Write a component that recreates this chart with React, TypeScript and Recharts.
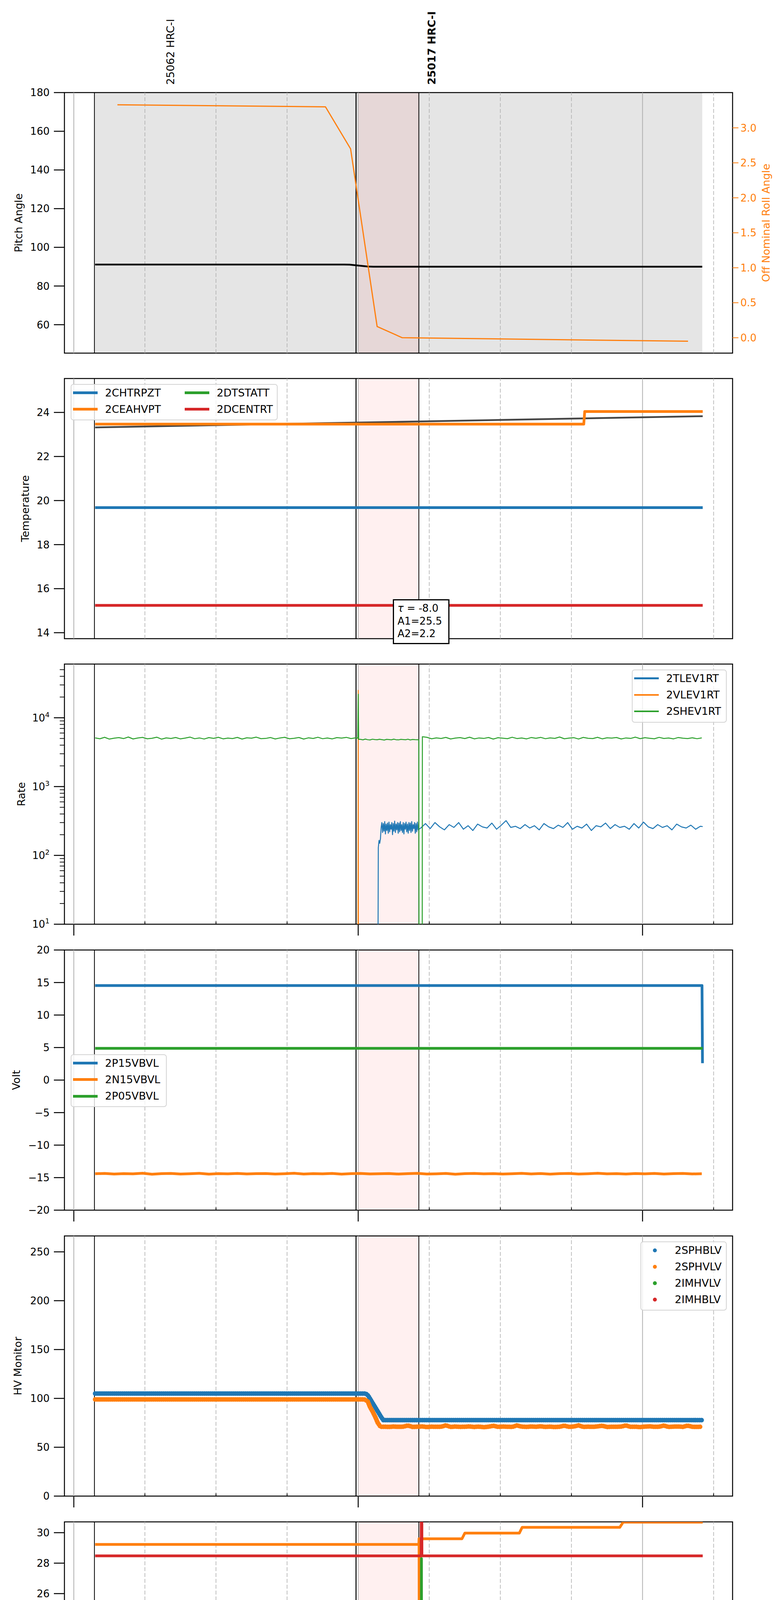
import React from 'react';
import { ComposedChart, Line, Scatter, XAxis, YAxis, ReferenceLine, ReferenceArea } from 'recharts';

const FONT = "'DejaVu Sans', sans-serif";
const BLUE = '#1f77b4';
const ORANGE = '#ff7f0e';
const GREEN = '#2ca02c';
const RED = '#d62728';
const BLACK = '#000000';

// ---------------- time axis: minutes after 2021-06-15 03:00 ----------------
const xDomain = [-1.98, 139.0];
const xTicks = [0, 15, 30, 45, 60, 75, 90, 105, 120, 135];
const xTickLabels = ['03h', '15', '30', '45', '04h', '15', '30', '45', '05h', '15'];
const xMajor = [0, 60, 120];
const xMinor = [15, 30, 45, 75, 90, 105, 135];
const obsBand = [60.0, 72.8];
const eventLines = [4.35, 59.55, 72.8];
const shadeSpan = [4.48, 132.6];
const obsLabels = [
  { t: 20.4, v: 180, text: '25062 HRC-I', bold: false },
  { t: 75.5, v: 180, text: '25017 HRC-I', bold: true },
];

type P = { t: number; v: number };
const zip = (ts: number[], vs: number[]): P[] => ts.map((t, i) => ({ t, v: vs[i] }));
const sampled = (start: number, step: number, vs: number[]): P[] =>
  vs.map((v, i) => ({ t: Math.round((start + i * step) * 1000) / 1000, v }));

// ---------------- panel 1: pitch / roll ----------------
const pitchDomain = [45.3, 180];
const pitchTicks = [60, 80, 100, 120, 140, 160, 180];
const rollDomain = [-0.22, 3.504];
const rollTicks = [0, 0.5, 1.0, 1.5, 2.0, 2.5, 3.0];
const pitchT = [4.5, 57.0, 58.2, 60.0, 62.0, 63.2, 132.6];
const pitchV = [91.1, 91.1, 91.05, 90.6, 90.1, 90.0, 90.0];
const rollT = [9.2, 53.1, 58.4, 64.0, 69.3, 129.6];
const rollV = [3.33, 3.3, 2.7, 0.16, 0.0, -0.05];

// ---------------- panel 2: temperature ----------------
const tempDomain = [13.73, 25.54];
const tempTicks = [14, 16, 18, 20, 22, 24];
const chtrpztT = [4.5, 132.7];
const chtrpztV = [19.68, 19.68];
const ceahvptT = [4.5, 107.6, 107.8, 132.7];
const ceahvptV = [23.47, 23.47, 24.04, 24.04];
const dcentrtT = [4.5, 132.7];
const dcentrtV = [15.24, 15.24];
const trendT = [4.5, 132.7];
const trendV = [23.32, 23.83];
const fitText = ['τ', ' = -8.0', 'A1=25.5', 'A2=2.2'];

// ---------------- panel 3: rates (log) ----------------
const rateDomain = [10, 60300];
const rateMajor = [10, 100, 1000, 10000];
const rateMinor = [20, 30, 40, 50, 60, 70, 80, 90, 200, 300, 400, 500, 600, 700, 800, 900,
  2000, 3000, 4000, 5000, 6000, 7000, 8000, 9000, 20000, 30000, 40000, 50000];
const shevPre = [5100, 4950, 5200, 4900, 5050, 5150, 4980, 5250, 4920, 5080,
  5180, 4950, 5030, 5220, 4890, 5100, 5000, 5170, 4930, 5060,
  5240, 4960, 5090, 4910, 5150, 5020, 5200, 4940, 5070, 4990,
  5180, 4900, 5120, 5050, 5230, 4970, 5010, 5160, 4920, 5090,
  5200, 4950, 5040, 5170, 4900, 5110, 5000, 5210, 4960, 5080,
  4930, 5150, 5060, 5190, 4980, 5120];
const shevSpikeT = [59.9, 60.0, 60.1];
const shevSpikeV = [5050, 22000, 4850];
const shevBand = [4850, 4780, 4900, 4800, 4760, 4880, 4820, 4790, 4870, 4810, 4750, 4860, 4830,
  4780, 4890, 4800, 4770, 4850, 4820, 4790, 4880, 4760, 4840, 4810, 4800];
const shevGapT = [72.8, 72.85, 73.5, 73.55];
const shevGapV = [4800, 1, 1, 5300];
const shevPost = [5200, 4950, 5100, 5000, 5180, 4920, 5060, 5150, 4980, 5220,
  4940, 5090, 5010, 5170, 4900, 5130, 5050, 4970, 5210, 4990,
  5080, 4930, 5160, 5040, 5190, 4960, 5100, 5020, 5250, 4950,
  5070, 5140, 4910, 5180, 5030, 4980, 5200, 4940, 5110, 5060,
  5170, 4920, 5090, 5010, 5230, 4970, 5130, 5040, 4950, 5190,
  5000, 5080, 4930, 5160, 5050, 4990, 5120, 4960, 5100];
const vlevT = [59.95, 60.0, 60.05];
const vlevV = [1, 25000, 1];
const tlevRiseT = [4.5, 64.15, 64.25, 64.4, 64.55, 64.7, 64.85];
const tlevRiseV = [1, 1, 130, 165, 150, 175, 255];
const tlevDense = [300, 215, 290, 225, 310, 205, 285, 230, 295, 210,
  305, 220, 280, 240, 300, 200, 290, 225, 315, 215,
  285, 235, 300, 210, 295, 220, 310, 230, 280, 215,
  300, 205, 290, 240, 305, 220, 285, 210, 300, 230,
  295, 215, 310, 225, 280, 245, 300, 210, 290, 220,
  305, 235];
const tlevPost = [250, 290, 245, 300, 260, 235, 280, 255, 300, 240,
  270, 230, 285, 260, 250, 295, 240, 275, 320, 255,
  265, 245, 280, 250, 270, 235, 290, 260, 245, 275,
  255, 300, 240, 265, 250, 285, 230, 270, 260, 295,
  245, 280, 255, 265, 240, 290, 250, 305, 260, 245,
  280, 255, 270, 235, 285, 260, 250, 275, 240, 265];
const tlevEndT = [132.7];
const tlevEndV = [262];

// ---------------- panel 4: volts ----------------
const voltDomain = [-20, 20];
const voltTicks = [-20, -15, -10, -5, 0, 5, 10, 15, 20];
const p15T = [4.5, 132.55, 132.65];
const p15V = [14.53, 14.53, 2.6];
const p05T = [4.5, 132.7];
const p05V = [4.88, 4.88];
const n15V = [-14.40, -14.35, -14.45, -14.38, -14.42, -14.33, -14.47, -14.39, -14.36, -14.44,
  -14.40, -14.34, -14.46, -14.38, -14.41, -14.35, -14.43, -14.39, -14.37, -14.45,
  -14.40, -14.33, -14.44, -14.38, -14.42, -14.36, -14.46, -14.39, -14.35, -14.43,
  -14.40, -14.37, -14.45, -14.38, -14.34, -14.44, -14.41, -14.36, -14.47, -14.39,
  -14.35, -14.42, -14.38, -14.45, -14.40, -14.34, -14.43, -14.37, -14.46, -14.39,
  -14.36, -14.44, -14.40, -14.33, -14.42, -14.38, -14.45, -14.37, -14.41, -14.35,
  -14.44, -14.39, -14.36, -14.43, -14.40];

// ---------------- panel 5: HV monitor ----------------
const hvDomain = [0, 266.3];
const hvTicks = [0, 50, 100, 150, 200, 250];
const sphblvT = [4.5, 61.6, 62.1, 62.8, 63.5, 64.1, 64.7, 65.3, 132.7];
const sphblvV = [105, 105, 102.9, 97.3, 91.8, 87.0, 82.1, 77.8, 77.8];
const sphvlvStepT = [4.5, 61.3, 62.0, 62.5, 63.1, 63.6, 64.1, 64.7];
const sphvlvStepV = [99, 99, 97.1, 91.2, 86.0, 81.1, 75.3, 71.0];
const sphvlvNoise = [71.0, 70.8, 71.2, 70.9, 71.1, 72.2, 70.8, 71.0, 71.3, 70.7,
  71.1, 70.9, 71.0, 72.4, 70.8, 71.2, 70.9, 71.0, 71.3, 70.8,
  71.1, 70.6, 71.0, 72.0, 70.9, 71.2, 71.0, 70.8, 72.3, 71.1,
  70.9, 71.2, 71.0, 71.4, 70.8, 71.1, 70.7, 71.0, 72.1, 70.9,
  71.2, 72.4, 70.8, 71.1, 70.9, 71.3, 72.0, 70.8, 71.0, 70.9,
  71.2, 72.3, 70.9, 71.0, 70.7, 71.1, 71.4, 70.9, 71.0, 72.2,
  70.8, 71.1, 71.2, 70.9, 72.1, 71.0, 70.8, 71.1];

// ---------------- panel 6: detector temp ----------------
const detDomain = [13.63, 30.71];
const detTicks = [14, 16, 18, 20, 22, 24, 26, 28, 30];
const spinatmT = [4.5, 73.6, 73.7, 73.8, 132.7];
const spinatmV = [15.12, 15.12, 5, 15.12, 15.12];
const sphvatmT = [4.5, 72.8, 72.85, 72.95, 73.05, 81.9, 82.5, 94.0, 94.6, 115.2, 115.9, 132.7];
const sphvatmV = [29.23, 29.23, 29.6, 5, 29.6, 29.6, 29.97, 29.97, 30.35, 30.35, 30.69, 30.69];
const iminatmT = [4.5, 73.3, 73.35, 73.4, 73.45, 132.7];
const iminatmV = [15.72, 15.72, 28.3, 5, 15.72, 15.72];
const imhvatmT = [4.5, 73.3, 73.35, 73.45, 132.7];
const imhvatmV = [28.48, 28.48, 50, 28.48, 28.48];

// ---------------- panel 7: FEA temp ----------------
const feaDomain = [10.14, 20.43];
const feaTicks = [12, 14, 16, 18, 20];
const fhtrmztT = [4.5, 132.7];
const fhtrmztV = [16.66, 16.66];
const fradpytT = [4.5, 132.7];
const fradpytV = [11.64, 11.64];
const fepratmT = [4.5, 73.4, 73.5, 73.6, 132.7];
const fepratmV = [18.93, 18.93, 25, 18.93, 18.93];
const fe00atmT = [4.5, 72.9, 73.0, 73.3, 79.5, 80.3, 81.4, 82.1, 83.0, 83.8, 84.8, 85.5, 132.7];
const fe00atmV = [17.81, 17.81, 12.74, 17.81, 17.81, 17.5, 17.81, 17.5, 17.81, 17.5, 17.81, 17.51, 17.51];

// ---------------- legends ----------------
const legTemp = [
  { label: '2CHTRPZT', color: BLUE }, { label: '2CEAHVPT', color: ORANGE },
  { label: '2DTSTATT', color: GREEN }, { label: '2DCENTRT', color: RED }];
const legRate = [
  { label: '2TLEV1RT', color: BLUE }, { label: '2VLEV1RT', color: ORANGE }, { label: '2SHEV1RT', color: GREEN }];
const legVolt = [
  { label: '2P15VBVL', color: BLUE }, { label: '2N15VBVL', color: ORANGE }, { label: '2P05VBVL', color: GREEN }];
const legHV = [
  { label: '2SPHBLV', color: BLUE }, { label: '2SPHVLV', color: ORANGE },
  { label: '2IMHVLV', color: GREEN }, { label: '2IMHBLV', color: RED }];
const legDet = [
  { label: '2SPINATM', color: BLUE }, { label: '2SPHVATM', color: ORANGE },
  { label: '2IMINATM', color: GREEN }, { label: '2IMHVATM', color: RED }];
const legFea = [
  { label: '2FHTRMZT', color: BLUE }, { label: '2FRADPYT', color: ORANGE },
  { label: '2FEPRATM', color: GREEN }, { label: '2FE00ATM', color: RED }];

// ---------------- data tables ----------------
const pitchData = zip(pitchT, pitchV);
const rollData = zip(rollT, rollV);
const chtrpztData = zip(chtrpztT, chtrpztV);
const ceahvptData = zip(ceahvptT, ceahvptV);
const dcentrtData = zip(dcentrtT, dcentrtV);
const trendData = zip(trendT, trendV);
const shevData = [
  ...sampled(4.5, 1, shevPre), ...zip(shevSpikeT, shevSpikeV), ...sampled(60.5, 0.5, shevBand),
  ...zip(shevGapT, shevGapV), ...sampled(74.5, 1, shevPost)];
const vlevData = zip(vlevT, vlevV);
const tlevData = [
  ...zip(tlevRiseT, tlevRiseV), ...sampled(65.0, 0.15, tlevDense), ...sampled(73.2, 1, tlevPost),
  ...zip(tlevEndT, tlevEndV)];
const p15Data = zip(p15T, p15V);
const p05Data = zip(p05T, p05V);
const n15Data = sampled(4.5, 2, n15V);
const sphblvData = zip(sphblvT, sphblvV);
const sphvlvData = [...zip(sphvlvStepT, sphvlvStepV), ...sampled(65.5, 1, sphvlvNoise)];
const spinatmData = zip(spinatmT, spinatmV);
const sphvatmData = zip(sphvatmT, sphvatmV);
const iminatmData = zip(iminatmT, iminatmV);
const imhvatmData = zip(imhvatmT, imhvatmV);
const fhtrmztData = zip(fhtrmztT, fhtrmztV);
const fradpytData = zip(fradpytT, fradpytV);
const fepratmData = zip(fepratmT, fepratmV);
const fe00atmData = zip(fe00atmT, fe00atmV);

// ---------------- tick renderers ----------------
const fmtPlain = (v: number) => String(v);
const fmtMinus = (v: number) => (v < 0 ? '\u2212' + Math.abs(v) : String(v));

const yTick = (p: any, fmt: (v: number) => string) => {
  const { x, y, payload } = p;
  return (
    <g>
      <line x1={x - 27} x2={x} y1={y} y2={y} stroke={BLACK} strokeWidth={2.5} />
      <text x={x - 38} y={y} dy="0.36em" textAnchor="end" fontSize={26} fontFamily={FONT} fill={BLACK}>
        {fmt(payload.value)}
      </text>
    </g>
  );
};

const rollTick = (p: any) => {
  const { x, y, payload } = p;
  return (
    <g>
      <line x1={x} x2={x + 15} y1={y} y2={y} stroke={ORANGE} strokeWidth={2} />
      <text x={x + 20} y={y} dy="0.36em" textAnchor="start" fontSize={26} fontFamily={FONT} fill={ORANGE}>
        {Number(payload.value).toFixed(1)}
      </text>
    </g>
  );
};

const logTick = (p: any) => {
  const { x, y, payload } = p;
  const v = Number(payload.value);
  const e = Math.round(Math.log10(v));
  if (!rateMajor.includes(v)) {
    return <line x1={x - 12} x2={x} y1={y} y2={y} stroke={BLACK} strokeWidth={1.8} />;
  }
  return (
    <g>
      <line x1={x - 27} x2={x} y1={y} y2={y} stroke={BLACK} strokeWidth={2.5} />
      <text x={x - 38} y={y} dy="0.36em" textAnchor="end" fontSize={26} fontFamily={FONT} fill={BLACK}>
        10<tspan dy={-11} fontSize={18}>{e}</tspan>
      </text>
    </g>
  );
};

const xTick = (p: any, withLabels: boolean) => {
  const { x, y, payload } = p;
  const v = Number(payload.value);
  const i = xTicks.indexOf(v);
  if (xMajor.includes(v)) {
    return (
      <g>
        <line x1={x} x2={x} y1={y} y2={y + 29} stroke={BLACK} strokeWidth={2.5} />
        {withLabels && (
          <text x={x} y={y + 59} textAnchor="middle" fontSize={26} fontFamily={FONT} fill={BLACK}>
            {xTickLabels[i]}
          </text>
        )}
      </g>
    );
  }
  return (
    <g>
      <line x1={x} x2={x} y1={y} y2={y - 7} stroke={BLACK} strokeWidth={2} />
      {withLabels && (
        <text x={x} y={y + 21} textAnchor="middle" fontSize={17.5} fontFamily={FONT} fill={BLACK}>
          {xTickLabels[i]}
        </text>
      )}
    </g>
  );
};

const obsLabelShape = (p: any) => {
  const { cx, cy, payload } = p;
  const ty = cy - 20;
  return (
    <text
      x={cx}
      y={ty}
      transform={`rotate(-90 ${cx} ${ty})`}
      textAnchor="start"
      dominantBaseline="central"
      fontSize={27}
      fontFamily={FONT}
      fontWeight={payload.bold ? 'bold' : 'normal'}
      fill={BLACK}
    >
      {payload.text}
    </text>
  );
};

// ---------------- shared chart pieces ----------------
const backdrop = (shaded: boolean) => {
  const els: any[] = [];
  if (shaded) {
    els.push(
      <ReferenceArea key="shade" yAxisId="L" x1={shadeSpan[0]} x2={shadeSpan[1]} fill="#000000" fillOpacity={0.1} stroke="none" />
    );
  }
  xMajor.forEach((t) =>
    els.push(<ReferenceLine key={'mg' + t} yAxisId="L" x={t} stroke="#b0b0b0" strokeWidth={2} />)
  );
  xMinor.forEach((t) =>
    els.push(<ReferenceLine key={'ng' + t} yAxisId="L" x={t} stroke="#b0b0b0" strokeWidth={1.6} strokeDasharray="10 5" />)
  );
  els.push(
    <ReferenceArea key="band" yAxisId="L" x1={obsBand[0]} x2={obsBand[1]} fill="#ff0000" fillOpacity={0.06} stroke="none" />
  );
  eventLines.forEach((t, i) =>
    els.push(<ReferenceLine key={'ev' + i} yAxisId="L" x={t} stroke={BLACK} strokeWidth={i === 1 ? 2.6 : 2} />)
  );
  return els;
};

const frame = () => (
  <ReferenceArea key="frame" yAxisId="L" x1={xDomain[0]} x2={xDomain[1]} fill="none" stroke={BLACK} strokeWidth={2.5} />
);

const lineProps = { dot: false, activeDot: false, isAnimationActive: false, type: 'linear' as const, strokeLinejoin: 'round' as const };

const xAxisFor = (mode: 'none' | 'ticks' | 'labels', clip: boolean, height: number) => (
  <XAxis
    type="number"
    dataKey="t"
    domain={xDomain}
    ticks={xTicks}
    interval={0}
    allowDataOverflow={clip}
    tickLine={false}
    axisLine={false}
    tickSize={0}
    tickMargin={0}
    height={height}
    tick={mode === 'none' ? false : (p: any) => xTick(p, mode === 'labels')}
  />
);

const yAxisFor = (domain: number[], ticks: number[], fmt: (v: number) => string, clip: boolean) => (
  <YAxis
    yAxisId="L"
    type="number"
    domain={domain}
    ticks={ticks}
    interval={0}
    allowDataOverflow={clip}
    width={165}
    tickLine={false}
    axisLine={false}
    tickSize={0}
    tickMargin={0}
    tick={(p: any) => yTick(p, fmt)}
  />
);

// ---------------- legend (HTML) ----------------
type LegItem = { label: string; color: string };
function LegendBox(props: {
  left: number; top: number; width: number; height: number; items: LegItem[];
  cols?: number; marker?: 'line' | 'dot'; lw?: number;
}) {
  const { left, top, width, height, items, cols = 1, marker = 'line', lw = 7 } = props;
  const rows = Math.ceil(items.length / cols);
  return (
    <div
      style={{
        position: 'absolute', left, top, width, height, boxSizing: 'border-box',
        border: '2px solid #d4d4d4', borderRadius: 7, background: 'rgba(255,255,255,0.8)', zIndex: 10,
      }}
    >
      {items.map((it, i) => {
        const c = Math.floor(i / rows);
        const r = i % rows;
        const cy = 22.5 + r * 42.3 - 2;
        const x0 = c * 286 - 2;
        return (
          <React.Fragment key={it.label}>
            {marker === 'line' ? (
              <div style={{ position: 'absolute', left: x0 + 6, top: cy - lw / 2, width: 63, height: lw, background: it.color }} />
            ) : (
              <div style={{ position: 'absolute', left: x0 + 32, top: cy - 5, width: 10, height: 10, borderRadius: 5, background: it.color }} />
            )}
            <div
              style={{
                position: 'absolute', left: x0 + 88, top: cy - 21, height: 42, lineHeight: '42px',
                fontSize: 27, fontFamily: FONT, whiteSpace: 'nowrap', color: BLACK,
              }}
            >
              {it.label}
            </div>
          </React.Fragment>
        );
      })}
    </div>
  );
}

const yLabels = [
  { text: 'Pitch Angle', x: 47, y: 570.5, color: BLACK },
  { text: 'Off Nominal Roll Angle', x: 1961, y: 570.5, color: ORANGE },
  { text: 'Temperature', x: 64, y: 1302, color: BLACK },
  { text: 'Rate', x: 54, y: 2033, color: BLACK },
  { text: 'Volt', x: 41, y: 2765, color: BLACK },
  { text: 'HV Monitor', x: 45, y: 3497, color: BLACK },
  { text: 'Detector Temp', x: 64, y: 4229, color: BLACK },
  { text: 'FEA Temp', x: 64, y: 4959.5, color: BLACK },
];

const MT = 30; // headroom above each plot so top tick labels are not clipped

const Wrap = (props: { top: number; children: any }) => (
  <div style={{ position: 'absolute', left: 0, top: props.top }}>{props.children}</div>
);

export default function App() {
  return (
    <div style={{ position: 'relative', width: 2000, height: 5400, margin: -8, background: '#ffffff', overflow: 'hidden' }}>
      {/* Panel 1: pitch / roll */}
      <Wrap top={0}>
        <ComposedChart width={2000} height={906} margin={{ top: 237, right: 0, bottom: 0, left: 0 }}>
          {xAxisFor('none', false, 2)}
          {yAxisFor(pitchDomain, pitchTicks, fmtPlain, false)}
          <YAxis
            yAxisId="R" orientation="right" type="number" domain={rollDomain} ticks={rollTicks} interval={0}
            width={124} tickLine={false} axisLine={false} tickSize={0} tickMargin={0} tick={rollTick}
          />
          {backdrop(true)}
          <Line yAxisId="L" data={pitchData} dataKey="v" stroke={BLACK} strokeWidth={4.5} {...lineProps} />
          <Line yAxisId="R" data={rollData} dataKey="v" stroke={ORANGE} strokeWidth={3} {...lineProps} />
          <Scatter yAxisId="L" data={obsLabels} dataKey="v" shape={obsLabelShape} isAnimationActive={false} />
          {frame()}
        </ComposedChart>
      </Wrap>

      {/* Panel 2: temperature */}
      <Wrap top={969 - MT}>
        <ComposedChart width={2000} height={MT + 668} margin={{ top: MT, right: 124, bottom: 0, left: 0 }}>
          {xAxisFor('none', false, 2)}
          {yAxisFor(tempDomain, tempTicks, fmtPlain, false)}
          {backdrop(false)}
          <Line yAxisId="L" data={trendData} dataKey="v" stroke="#454545" strokeWidth={4.5} {...lineProps} />
          <Line yAxisId="L" data={chtrpztData} dataKey="v" stroke={BLUE} strokeWidth={7} {...lineProps} />
          <Line yAxisId="L" data={ceahvptData} dataKey="v" stroke={ORANGE} strokeWidth={7} {...lineProps} />
          <Line yAxisId="L" data={dcentrtData} dataKey="v" stroke={RED} strokeWidth={7} {...lineProps} />
          {frame()}
        </ComposedChart>
      </Wrap>
      <LegendBox left={181} top={983} width={530} height={93} items={legTemp} cols={2} />
      <div
        style={{
          position: 'absolute', left: 1006, top: 1534, width: 145, height: 115, boxSizing: 'border-box',
          border: '3px solid #000', background: '#fff', zIndex: 10, fontFamily: FONT, fontSize: 26, color: BLACK,
        }}
      >
        <div style={{ position: 'absolute', left: 9, top: 4, lineHeight: '32px', whiteSpace: 'nowrap' }}>
          <i>{fitText[0]}</i>{fitText[1]}
        </div>
        <div style={{ position: 'absolute', left: 9, top: 37, lineHeight: '32px', whiteSpace: 'nowrap' }}>{fitText[2]}</div>
        <div style={{ position: 'absolute', left: 9, top: 69, lineHeight: '32px', whiteSpace: 'nowrap' }}>{fitText[3]}</div>
      </div>

      {/* Panel 3: rates */}
      <Wrap top={1700 - MT}>
        <ComposedChart width={2000} height={MT + 706} margin={{ top: MT, right: 124, bottom: 0, left: 0 }}>
          {xAxisFor('ticks', true, 40)}
          <YAxis
            yAxisId="L" type="number" scale="log" domain={rateDomain} ticks={[...rateMajor, ...rateMinor]}
            interval={0} allowDataOverflow width={165} tickLine={false} axisLine={false} tickSize={0} tickMargin={0}
            tick={logTick}
          />
          {backdrop(false)}
          <Line yAxisId="L" data={tlevData} dataKey="v" stroke={BLUE} strokeWidth={2.5} {...lineProps} />
          <Line yAxisId="L" data={vlevData} dataKey="v" stroke={ORANGE} strokeWidth={2.5} {...lineProps} />
          <Line yAxisId="L" data={shevData} dataKey="v" stroke={GREEN} strokeWidth={2.5} {...lineProps} />
          {frame()}
        </ComposedChart>
      </Wrap>
      <LegendBox left={1618} top={1714} width={243} height={136} items={legRate} lw={4.5} />

      {/* Panel 4: volts */}
      <Wrap top={2432 - MT}>
        <ComposedChart width={2000} height={MT + 706} margin={{ top: MT, right: 124, bottom: 0, left: 0 }}>
          {xAxisFor('ticks', false, 40)}
          {yAxisFor(voltDomain, voltTicks, fmtMinus, false)}
          {backdrop(false)}
          <Line yAxisId="L" data={p15Data} dataKey="v" stroke={BLUE} strokeWidth={7} {...lineProps} />
          <Line yAxisId="L" data={n15Data} dataKey="v" stroke={ORANGE} strokeWidth={7} {...lineProps} />
          <Line yAxisId="L" data={p05Data} dataKey="v" stroke={GREEN} strokeWidth={7} {...lineProps} />
          {frame()}
        </ComposedChart>
      </Wrap>
      <LegendBox left={181} top={2699} width={246} height={135} items={legVolt} />

      {/* Panel 5: HV monitor (dotted markers) */}
      <Wrap top={3164 - MT}>
        <ComposedChart width={2000} height={MT + 706} margin={{ top: MT, right: 124, bottom: 0, left: 0 }}>
          {xAxisFor('ticks', false, 40)}
          {yAxisFor(hvDomain, hvTicks, fmtPlain, false)}
          {backdrop(false)}
          <Line yAxisId="L" data={sphblvData} dataKey="v" stroke={BLUE} strokeWidth={12} strokeDasharray="0 5" strokeLinecap="round" {...lineProps} />
          <Line yAxisId="L" data={sphvlvData} dataKey="v" stroke={ORANGE} strokeWidth={12} strokeDasharray="0 5" strokeLinecap="round" {...lineProps} />
          {frame()}
        </ComposedChart>
      </Wrap>
      <LegendBox left={1640} top={3178} width={221} height={177} items={legHV} marker="dot" />

      {/* Panel 6: detector temp */}
      <Wrap top={3896 - MT}>
        <ComposedChart width={2000} height={MT + 706} margin={{ top: MT, right: 124, bottom: 0, left: 0 }}>
          {xAxisFor('ticks', true, 40)}
          {yAxisFor(detDomain, detTicks, fmtPlain, true)}
          {backdrop(false)}
          <Line yAxisId="L" data={spinatmData} dataKey="v" stroke={BLUE} strokeWidth={7} {...lineProps} />
          <Line yAxisId="L" data={sphvatmData} dataKey="v" stroke={ORANGE} strokeWidth={7} {...lineProps} />
          <Line yAxisId="L" data={iminatmData} dataKey="v" stroke={GREEN} strokeWidth={7} {...lineProps} />
          <Line yAxisId="L" data={imhvatmData} dataKey="v" stroke={RED} strokeWidth={7} {...lineProps} />
          {frame()}
        </ComposedChart>
      </Wrap>
      <LegendBox left={1615} top={4141} width={246} height={176} items={legDet} />

      {/* Panel 7: FEA temp */}
      <Wrap top={4628 - MT}>
        <ComposedChart width={2000} height={MT + 772} margin={{ top: MT, right: 124, bottom: 0, left: 0 }}>
          {xAxisFor('labels', true, 109)}
          {yAxisFor(feaDomain, feaTicks, fmtPlain, true)}
          {backdrop(false)}
          <Line yAxisId="L" data={fhtrmztData} dataKey="v" stroke={BLUE} strokeWidth={7} {...lineProps} />
          <Line yAxisId="L" data={fradpytData} dataKey="v" stroke={ORANGE} strokeWidth={7} {...lineProps} />
          <Line yAxisId="L" data={fepratmData} dataKey="v" stroke={GREEN} strokeWidth={7} {...lineProps} />
          <Line yAxisId="L" data={fe00atmData} dataKey="v" stroke={RED} strokeWidth={7} {...lineProps} />
          {frame()}
        </ComposedChart>
      </Wrap>
      <LegendBox left={1613} top={4872} width={248} height={177} items={legFea} />

      {/* axis titles */}
      <svg width={2000} height={5400} style={{ position: 'absolute', left: 0, top: 0, pointerEvents: 'none', zIndex: 5 }}>
        {yLabels.map((l) => (
          <text
            key={l.text}
            x={l.x}
            y={l.y}
            transform={`rotate(-90 ${l.x} ${l.y})`}
            textAnchor="middle"
            dominantBaseline="central"
            fontSize={27}
            fontFamily={FONT}
            fill={l.color}
          >
            {l.text}
          </text>
        ))}
        <text x={1020.5} y={5390} textAnchor="middle" fontSize={28} fontFamily={FONT} fill={BLACK}>
          2021-06-15 (166)
        </text>
      </svg>
    </div>
  );
}
